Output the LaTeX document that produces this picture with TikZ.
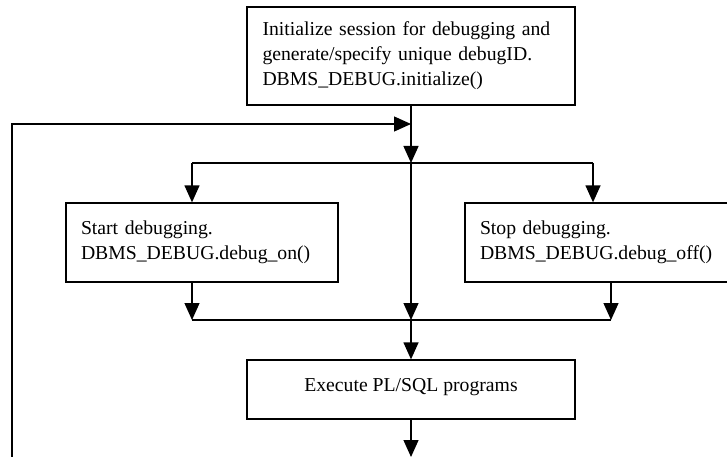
\documentclass[tikz,border=0pt]{standalone}
\usepackage{fontspec}
\setmainfont{Liberation Serif}
\usetikzlibrary{arrows.meta}
\begin{document}
\begin{tikzpicture}[x=1pt,y=-1pt,
  line width=1.3pt,
  every node/.style={font=\fontsize{19.7pt}{25pt}\selectfont},
  stepbox/.style={draw, rectangle, inner xsep=15pt, inner ysep=0pt, align=left},
  arr/.style={-{Triangle[length=17pt,width=15pt]}}]
\useasboundingbox (0,0) rectangle (727,457);
\begin{scope}
\clip (0,0) rectangle (727,457);
% process boxes
\node[stepbox, minimum width=328pt, minimum height=98pt, text width=297pt]
  (init) at (411,56) {Initialize session for debugging and\\generate/specify unique debugID.\\DBMS\_DEBUG.initialize()};
\node[stepbox, minimum width=272pt, minimum height=79pt, text width=242pt]
  (on) at (202,242.5) {Start debugging.\\DBMS\_DEBUG.debug\_on()};
\node[stepbox, minimum width=280pt, minimum height=79pt, text width=250pt]
  (off) at (605,242.5) {Stop debugging.\\DBMS\_DEBUG.debug\_off()};
\node[stepbox, minimum width=328pt, minimum height=59pt, align=center, text depth=10pt]
  (exec) at (411,389.5) {Execute PL/SQL programs};
% junction points
\coordinate (split) at (411,163);
\coordinate (splitL) at (192,163);
\coordinate (splitR) at (593,163);
\coordinate (merge) at (411,320);
\coordinate (mergeL) at (192,320);
\coordinate (mergeR) at (611,320);
\coordinate (loopin) at (411,124);
\coordinate (loopcorner) at (12,124);
\coordinate (loopstart) at (12,457);
\coordinate (out) at (411,457);
% connectors
\draw[arr] (init.south) -- (split);
\draw[arr] (loopstart) -- (loopcorner) -- (loopin);
\draw (splitL) -- (splitR);
\draw[arr] (splitL) -- (splitL |- on.north);
\draw[arr] (splitR) -- (splitR |- off.north);
\draw[arr] (split) -- (merge);
\draw[arr] (mergeL |- on.south) -- (mergeL);
\draw[arr] (mergeR |- off.south) -- (mergeR);
\draw (mergeL) -- (mergeR);
\draw[arr] (merge) -- (exec.north);
\draw[arr] (exec.south) -- (out);
\end{scope}
\end{tikzpicture}
\end{document}
